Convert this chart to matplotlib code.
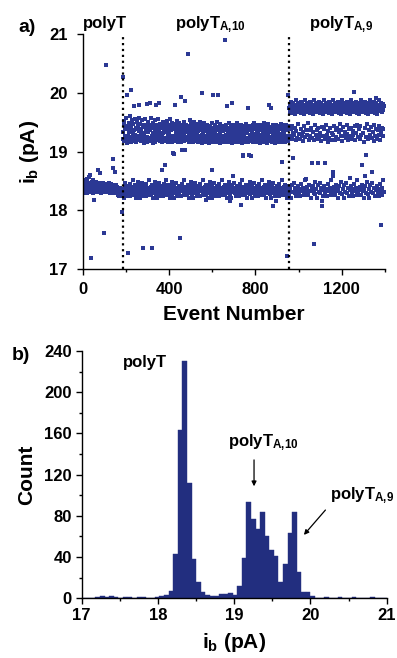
import numpy as np
import matplotlib
matplotlib.use("Agg")
import matplotlib.pyplot as plt
from matplotlib.ticker import MultipleLocator

# i_b values in units of 0.01 pA, one per event, in event order
seg_polyT = """
1838 1835 1841 1833 1846 1837 1830 1844 1839 1836 1849 1834 1840 1832 1843 1838 1852 1835 1829 1841
1853 1837 1844 1831 1839 1846 1835 1842 1833 1838 1857 1840 1836 1845 1832 1839 1860 1834 1719 1843
1837 1848 1833 1841 1836 1844 1830 1839 1851 1835 1842 1838 1817 1846 1834 1840 1837 1831 1845 1839
1836 1843 1833 1848 1838 1840 1832 1845 1837 1841 1834 1839 1868 1836 1844 1831 1842 1838 1835 1847
1864 1839 1833 1841 1836 1845 1830 1838 1843 1835 1840 1837 1846 1832 1839 1842 1834 1838 1841 1836
1761 1840 1833 1844 1837 1835 1842 1831 2047 1839 1845 1836 1834 1841 1838 1843 1832 1837 1840 1835
1839 1846 1833 1836 1842 1830 1838 1844 1835 1840 1837 1832 1845 1839 1834 1841 1836 1843 1831 1887
1838 1835 1872 1840 1833 1837 1842 1829 1839 1836 1865 1834 1841 1838 1832 1844 1835 1839 1830 1837
1833 1840 1827 1836 1831 1838 1825 1834 1829 1837 1832 1826 1835 1830 1839 1828 1833 1824 1836 1831
1829 1834 1826 1797 1832
"""

seg_A10 = """
2027 1934 1828 1921 1946 1836 1821 1918 1952 1843 1926 1941 1832 1847 1958 1923 1830 1939 1839 1915
1825 1997 1944 1728 1834 1927 1841 1919 1949 1829 1933 1837 1960 1922 1824 1937 1845 2004 1917 1833
1942 1838 1925 1953 1827 1920 1851 1931 1831 1947 1918 1835 1978 1936 1840 1924 1955 1826 1929 1844
1921 1940 1833 1822 1916 1950 1836 1938 1923 1842 1830 1944 1919 1848 1957 1980 1926 1828 1935 1836
1821 1920 1947 1843 1931 1832 1939 1918 1847 1954 1830 1924 1942 1839 1825 1927 1736 1915 1834 1945
1931 1841 1921 1829 1956 1837 1936 1919 1824 1943 1845 1981 1925 1833 1939 1917 1838 1950 1827 1933
1922 1851 1940 1831 1918 1983 1835 1946 1937 1840 1924 1958 1826 1919 1736 1844 1941 1926 1833 1915
1822 1932 1948 1836 1920 1842 1944 1925 1830 1953 1848 1917 1938 1828 1929 1980 1836 1921 1946 1821
1933 1843 1919 1942 1832 1926 1955 1847 1982 1830 1935 1918 1839 1947 1825 1930 1834 1921 1940 1841
1926 1869 1829 1944 1917 1837 1932 1824 1950 1922 1845 1939 1833 1918 1945 1838 1878 1934 1827 1920
1943 1851 1924 1831 1937 1835 1952 1840 1916 1940 1826 1928 1844 1946 1921 1833 1933 1822 1955 1923
1836 1919 1941 1842 1927 1830 1936 1948 1848 1917 1828 1925 1836 1944 1921 1898 1896 1821 1938 1926
1843 1918 1980 1832 1947 1933 1847 1922 1940 1830 1952 1839 1919 1937 1825 1926 1943 1834 1916 1934
1841 1921 1949 1829 1928 1754 1940 1837 1917 1935 1993 1824 1924 1945 1902 1845 1920 1833 1936 1929
1838 1941 1918 1827 1931 1950 1851 1923 1938 1831 1986 1903 1835 1946 1919 1840 1933 1925 1826 1942
1921 1844 1935 1833 2066 1917 1944 1822 1926 1836 1953 1922 1842 1939 1918 1830 1947 1931 1848 1924
1938 1828 1920 1945 1836 1927 1821 1916 1942 1843 1933 1832 1951 1921 1847 1936 1919 1830 1944 1926
1839 1918 1940 1825 1929 1834 1947 1922 1841 1935 1917 1829 1943 1926 1837 1939 1920 1824 1950 1924
1845 1937 1919 1833 1945 1921 1999 1838 1928 1914 1827 1941 1933 1851 1918 1926 1831 1948 1922 1835
1935 1840 1916 1943 1826 1818 1927 1920 1844 1939 1833 1924 1946 1822 1918 1932 1836 1921 1942 1842
1926 1830 1915 1938 1848 1923 1944 1828 1919 1934 1836 1927 1869 1821 1948 1917 1843 1929 1940 1832
1996 1921 1847 1936 1918 1830 1945 1925 1839 1932 1825 1916 1941 1834 1923 1937 1841 1919 1950 1829
1996 1928 1837 1917 1942 1824 1924 1936 1845 1915 1947 1833 1921 1933 1838 1939 1918 1827 1926 1944
1851 1920 1938 1831 1916 1935 1835 1923 1943 1840 1918 1927 1826 1940 2089 1921 1844 1946 1917 1833
1929 1822 1919 1937 1978 1836 1924 1941 1842 1916 1932 1830 1948 1920 1848 1816 1926 1934 1828 1918
1943 1836 1922 1929 1821 1938 1915 1982 1843 1925 1945 1832 1858 1919 1935 1847 1921 1942 1830 1917
1931 1839 1926 1944 1825 1918 1937 1834 1922 1949 1841 1916 1930 1829 1940 1923 1837 1919 1935 1824
1927 1942 1845 1917 1924 1833 1938 1920 1838 1946 1810 1827 1921 1934 1851 1915 1895 1928 1831 1893
1940 1835 1918 1926 1840 1943 1922 1826 1916 1935 1844 1924 1947 1833 1919 1931 1822 1939 1921 1836
1917 1974 1842 1936 1923 1830 1944 1895 1848 1919 1928 1828 1941 1892 1836 1925 1937 1821 1918 1933
1843 1920 1945 1832 1927 1916 1847 1938 1830 1923 1949 1839 1918 1930 1825 1942 1921 1834 1926 1939
1841 1917 1936 1829 1924 1945 1837 1919 1932 1824 1922 1940 1845 1927 1915 1833 1943 1921 1838 1937
1925 1827 1918 1946 1851 1929 1920 1831 1941 1916 1835 1933 1924 1840 1948 1919 1826 1927 1938 1844
1921 1944 1833 1917 1930 1822 1939 1923 1836 1915 1935 1842 1926 1947 1830 1920 1936 1980 1848 1918
1942 1828 1925 1933 1836 1975 1919 1821 1940 1922 1843 1937 1916 1832 1945 1808 1924 1847 1931 1918
1830 1927 1943 1839 1920 1938 1825 1915 1929 1834 1946 1922 1816 1841 1935 1918 1829 1941 1926 1837
1921 1933 1824 1917 1944 1845 1928 1919 1833 1939 1924 1838 1947 1920 1827 1930 1883 1916 1851 1942
1927 1831 1936 1918 1835 1923 1945 1840 1919 1931 1826 1940 1925 1844 1917 1938 1833 1922 1946 1722
1822 1920 1937 1836 1926 1996 1918 1842 1943 1830 1924
"""

seg_A9 = """
1974 1828 1968 1926 1981 1836 1971 1938 1977 1821 1985 1921 1843 1966 1944 1979 1890 1973 1832 1932
1983 1847 1970 1928 1976 1830 1964 1941 1980 1839 1919 1975 1987 1825 1935 1969 1834 1978 1924 1972
1841 1982 1947 1974 1829 1968 1930 1981 1971 1837 1922 1977 1824 1985 1939 1966 1845 1979 1926 1973
1983 1833 1933 1970 1976 1838 1918 1964 1827 1980 1943 1975 1851 1987 1925 1969 1853 1978 1831 1936
1972 1929 1835 1982 1974 1840 1948 1968 1981 1826 1920 1971 1844 1977 1937 1985 1833 1966 1927 1979
1822 1973 1941 1983 1881 1836 1970 1923 1976 1842 1964 1934 1980 1830 1975 1919 1743 1987 1848 1945
1969 1828 1978 1928 1972 1836 1982 1936 1974 1821 1968 1921 1843 1881 1981 1940 1971 1832 1977 1925
1985 1847 1931 1966 1979 1830 1918 1973 1839 1983 1816 1807 1970 1942 1976 1825 1964 1927 1980 1834
1975 1938 1987 1841 1969 1922 1978 1881 1829 1972 1946 1982 1837 1974 1929 1968 1824 1981 1917 1971
1845 1977 1935 1985 1833 1966 1924 1979 1838 1973 1940 1983 1827 1970 1920 1976 1851 1964 1932 1980
1975 1831 1928 1866 1858 1987 1835 1944 1969 1978 1840 1919 1972 1982 1826 1936 1974 1844 1968 1925
1981 1833 1940 1971 1977 1822 1922 1985 1836 1966 1933 1979 1842 1973 1947 1983 1830 1970 1926 1976
1848 1964 1937 1980 1828 1975 1918 1987 1836 1969 1942 1978 1821 1927 1972 1982 1843 1934 1974 1968
1832 1981 1923 1971 1847 1977 1945 1985 1830 1966 1930 1979 1839 1973 1919 1983 1825 1970 1939 1976
1834 1855 1964 1926 1980 1841 1975 1941 1987 1829 1969 1921 1978 1837 1972 1935 1824 1982 1928 1974
2001 1845 1968 1943 1981 1833 1971 1920 1977 1838 1985 1932 1966 1827 1979 1946 1851 1973 1925 1983
1831 1970 1938 1976 1835 1964 1922 1980 1840 1975 1944 1987 1826 1969 1929 1978 1844 1972 1878 1982
1974 1833 1931 1968 1981 1822 1917 1971 1836 1977 1940 1859 1985 1842 1894 1966 1925 1979 1830 1973
1983 1848 1947 1970 1976 1828 1921 1964 1836 1980 1936 1975 1821 1987 1928 1969 1843 1978 1942 1972
1982 1832 1924 1974 1865 1968 1847 1933 1981 1971 1830 1918 1977 1985 1839 1945 1966 1825 1927 1979
1973 1834 1992 1939 1983 1970 1841 1922 1976 1964 1829 1937 1980 1837 1929 1975 1987 1824 1943 1969
1978 1845 1920 1972 1775 1833 1934 1982 1974 1838 1941 1968 1827 1926 1981 1971 1851 1938 1977 1831
"""

# events where the analyte changes (dotted lines)
boundaries = [185, 955]
seg_names = ["polyT", "polyT$_\\mathbf{A{,}10}$", "polyT$_\\mathbf{A{,}9}$"]
seg_label_x = [0, 590, 1196]

# histogram of i_b, 0.06 pA bins starting at 17 pA
bin_start = 17.0
bin_width = 0.06
counts = [0, 0, 0, 1, 2, 1, 2, 1, 0, 1, 1, 0, 1, 1, 0, 0, 1, 2, 3, 7,
          43, 163, 230, 112, 38, 16, 6, 3, 2, 2, 4, 4, 5, 3, 12, 39, 93, 77, 67, 84,
          60, 47, 41, 16, 33, 63, 84, 26, 6, 6, 2, 0, 0, 1, 0, 0, 1, 0, 0, 1,
          0, 0, 0, 1, 0, 0, 0]

DOT = "#2b3894"
BAR = "#222e7f"

plt.rcParams['font.family'] = ['Liberation Sans', 'DejaVu Sans']
plt.rcParams['font.weight'] = 'bold'
plt.rcParams['axes.labelweight'] = 'bold'
plt.rcParams['mathtext.fontset'] = 'custom'
plt.rcParams['mathtext.rm'] = 'Liberation Sans:bold'
plt.rcParams['mathtext.bf'] = 'Liberation Sans:bold'
plt.rcParams['mathtext.it'] = 'Liberation Sans:bold'
plt.rcParams['axes.linewidth'] = 1.0


def parse(s):
    return np.array(s.split(), dtype=float) / 100.0


def style_axes(ax):
    ax.spines['top'].set_visible(False)
    ax.spines['right'].set_visible(False)
    ax.tick_params(which='both', direction='out', width=1, labelsize=12)
    ax.tick_params(which='major', length=4)
    ax.tick_params(which='minor', length=2.5)


ib = np.concatenate([parse(seg_polyT), parse(seg_A10), parse(seg_A9)])
events = np.arange(len(ib))

fig = plt.figure(figsize=(3.97, 6.58), dpi=100)

# a) event scatter
ax1 = fig.add_axes([0.2083, 0.5907, 0.7615, 0.3576])
ax1.scatter(events, ib, s=5, marker='s', color=DOT, linewidths=0)
for b in boundaries:
    ax1.axvline(b, color='black', ls=':', lw=1.6)
ax1.set_xlim(0, 1400)
ax1.set_ylim(17, 21)
ax1.xaxis.set_major_locator(MultipleLocator(400))
ax1.xaxis.set_minor_locator(MultipleLocator(200))
ax1.yaxis.set_major_locator(MultipleLocator(1))
style_axes(ax1)
ax1.tick_params(axis='y', pad=7)
ax1.tick_params(axis='x', pad=5)
ax1.set_xlabel("Event Number", fontsize=15, labelpad=6)
ax1.set_ylabel("i$_\\mathbf{b}$ (pA)", fontsize=15, labelpad=6)
for x, name in zip(seg_label_x, seg_names):
    ax1.text(x, 21.1, name, fontsize=12, ha='left' if x == 0 else 'center',
             va='baseline')
fig.text(18 / 397, 1 - 32 / 658, "a)", fontsize=14, va='baseline')

# b) histogram
ax2 = fig.add_axes([0.2058, 0.0907, 0.7683, 0.3759])
edges = bin_start + bin_width * np.arange(len(counts))
ax2.bar(edges, counts, width=bin_width, align='edge', color=BAR,
        edgecolor=BAR, linewidth=0.3)
ax2.set_xlim(17, 21)
ax2.set_ylim(0, 240)
ax2.xaxis.set_major_locator(MultipleLocator(1))
ax2.xaxis.set_minor_locator(MultipleLocator(0.5))
ax2.yaxis.set_major_locator(MultipleLocator(40))
ax2.yaxis.set_minor_locator(MultipleLocator(20))
style_axes(ax2)
ax2.tick_params(axis='both', pad=3)
ax2.set_xlabel("i$_\\mathbf{b}$ (pA)", fontsize=15, labelpad=6)
ax2.set_ylabel("Count", fontsize=15, labelpad=6)

ax2.text(17.83, 229, "polyT", fontsize=12, ha='center', va='center')
ax2.text(19.38, 151, "polyT$_\\mathbf{A{,}10}$", fontsize=12, ha='center', va='center')
ax2.text(20.68, 100, "polyT$_\\mathbf{A{,}9}$", fontsize=12, ha='center', va='center')
arrow = dict(arrowstyle='-|>', lw=0.9, color='black', mutation_scale=7)
ax2.annotate("", xy=(19.26, 106), xytext=(19.26, 137), arrowprops=arrow)
ax2.annotate("", xy=(19.89, 59.5), xytext=(20.22, 87.7), arrowprops=arrow)
fig.text(12 / 397, 1 - 360 / 658, "b)", fontsize=14, va='baseline')

fig.savefig("out.png", dpi=100)
